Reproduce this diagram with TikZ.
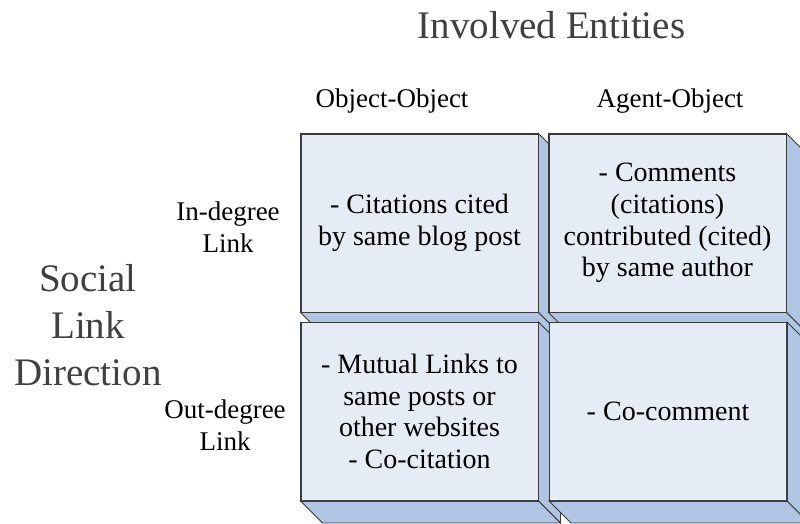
\documentclass[tikz,border=0pt]{standalone}
\usepackage{fontspec}
\setmainfont{Liberation Serif}
\usetikzlibrary{calc}
\definecolor{frontc}{HTML}{E5ECF6}
\definecolor{sidec}{HTML}{B0C5E3}
\definecolor{edgec}{HTML}{3A3A3A}
\definecolor{bigtext}{HTML}{404040}
\newcommand{\boxfont}{\fontsize{28}{31.7}\selectfont}
\newcommand{\lblfont}{\fontsize{27}{33}\selectfont}
\newcommand{\bigfont}{\fontsize{39}{46.5}\selectfont}
\tikzset{
  front/.style={draw=edgec, fill=frontc, line width=0.9pt, minimum width=237pt, minimum height=178pt, inner sep=0pt, align=center, font=\boxfont, text=black},
  side/.style={draw=edgec, fill=sidec, line width=0.9pt, line join=miter},
  lbl/.style={font=\lblfont, text=black, inner sep=0pt, anchor=base},
  big/.style={font=\bigfont, text=bigtext, inner sep=0pt, anchor=base}
}
\newcommand{\sides}[1]{%
  \draw[side] (#1.north east) -- ++(22,22) -- ($(#1.south east)+(22,22)$) -- (#1.south east) -- cycle;
  \draw[side] (#1.south west) -- (#1.south east) -- ++(22,22) -- ($(#1.south west)+(22,22)$) -- cycle;
  \draw[draw=edgec, line width=0.9pt] (#1.north west) rectangle (#1.south east);
}
\begin{document}
\begin{tikzpicture}[x=1pt,y=-1pt]
\clip (0,0) rectangle (800,523);
\fill[white] (0,0) rectangle (800,523);

\node[front] (tl) at (419.5,223) {- Citations cited\\by same blog post};
\sides{tl}
\node[front] (tr) at (667.5,223) {- Comments\\(citations)\\contributed (cited)\\by same author};
\sides{tr}
\node[front] (bl) at (419.5,411.5) {- Mutual Links to\\same posts or\\other websites\\- Co-citation};
\sides{bl}
\node[front] (br) at (668,411.5) {- Co-comment};
\sides{br}

\node[big] (title) at (551.5,38) {Involved Entities};
\node[lbl] (oo) at (392,107) {Object-Object};
\node[lbl] (ao) at (670,107) {Agent-Object};

\node[lbl] (in1) at (228,220) {In-degree};
\node[lbl] (in2) at (228,252) {Link};
\node[lbl] (out1) at (225,418) {Out-degree};
\node[lbl] (out2) at (225,450) {Link};

\node[big] (s1) at (88,291) {Social};
\node[big] (s2) at (88,338) {Link};
\node[big] (s3) at (88,385) {Direction};
\end{tikzpicture}
\end{document}
